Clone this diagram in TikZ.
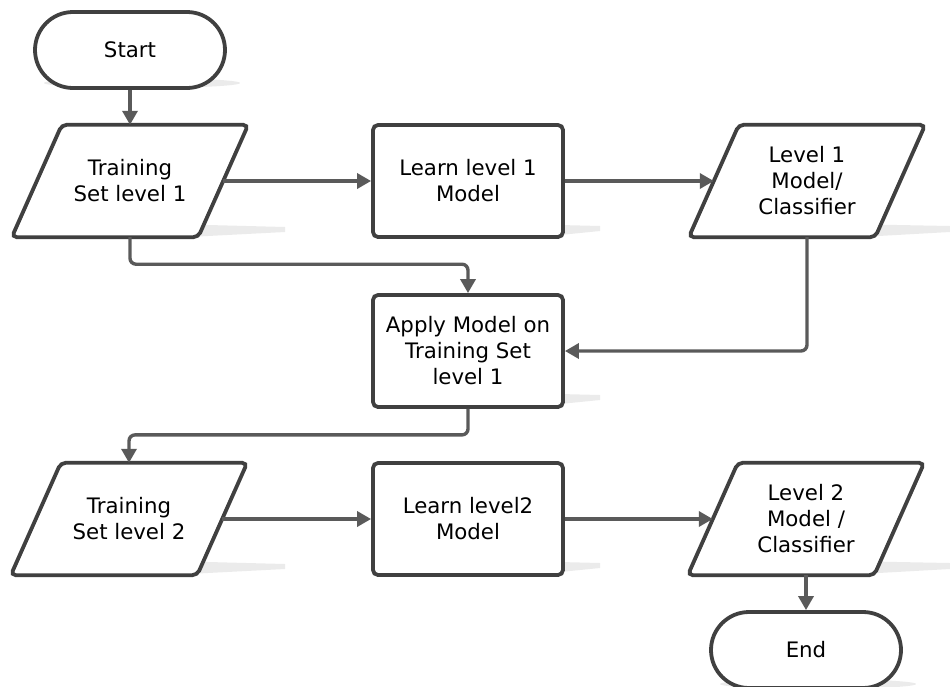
\documentclass[tikz,border=0pt]{standalone}
\usepackage{fontspec}
\setmainfont{DejaVu Sans}
\usetikzlibrary{arrows.meta,calc}
\definecolor{bordergray}{HTML}{404040}
\definecolor{linegray}{HTML}{5A5A5A}
\definecolor{shadowgray}{HTML}{EBEBEB}
\pgfdeclarelayer{background}
\pgfsetlayers{background,main}
% parallelogram outline around a text node of the io style
\newcommand\ioshape[1]{%
  \draw[outline, fill=white] ([xshift=25pt]#1.north west) -- ([xshift=25pt]#1.north east)
    -- ([xshift=-25pt]#1.south east) -- ([xshift=-25pt]#1.south west) -- cycle;}
\begin{document}
\begin{tikzpicture}[x=1pt,y=-1pt,
  outline/.style={draw=bordergray, line width=3.8pt, rounded corners=5pt},
  label/.style={text=black, align=center, font=\fontsize{21.3}{26}\selectfont},
  term/.style={label, outline, fill=white, rectangle, rounded corners=38pt,
    minimum width=190pt, minimum height=76pt},
  proc/.style={label, outline, fill=white, rectangle, minimum width=190pt, minimum height=112pt},
  io/.style={label, rectangle, minimum width=186pt, minimum height=112pt},
  flow/.style={draw=linegray, line width=3.4pt, rounded corners=6pt,
    -{Triangle[length=14pt,width=15pt]}},
  shade/.style={fill=shadowgray, draw=none}]
\useasboundingbox (0,0) rectangle (950,686);

% shapes
\node[term] (start) at (130,50) {Start};
\node[io]   (ts1)   at (130,181) {Training\\Set level 1};
\node[proc] (learn1) at (468,181) {Learn level 1\\Model};
\node[io]   (mod1)  at (807,181) {Level 1\\Model/\\Classifier};
\node[proc] (apply) at (468,351) {Apply Model on\\Training Set\\level 1};
\node[io]   (ts2)   at (129,519) {Training\\Set level 2};
\node[proc] (learn2) at (468,519) {Learn level2\\Model};
\node[io]   (mod2)  at (806,519) {Level 2\\Model /\\Classifier};
\node[term] (end)   at (806,650) {End};

\begin{pgfonlayer}{background}
  % soft drop shadows
  \fill[shade] (142,83) ellipse [x radius=98pt, y radius=5pt];
  \fill[shade] (150,239) -- (285,232) -- (285,227) -- (170,224) -- cycle;
  \fill[shade] (520,239) -- (600,231) -- (600,226) -- (520,224) -- cycle;
  \fill[shade] (825,239) -- (950,232) -- (950,226) -- (845,224) -- cycle;
  \fill[shade] (520,408) -- (600,400) -- (600,395) -- (520,393) -- cycle;
  \fill[shade] (150,576) -- (285,569) -- (285,564) -- (170,561) -- cycle;
  \fill[shade] (520,576) -- (600,568) -- (600,563) -- (520,561) -- cycle;
  \fill[shade] (825,576) -- (950,569) -- (950,563) -- (845,561) -- cycle;
  \fill[shade] (818,684) ellipse [x radius=98pt, y radius=5pt];
  % data (parallelogram) shapes
  \ioshape{ts1}
  \ioshape{mod1}
  \ioshape{ts2}
  \ioshape{mod2}
\end{pgfonlayer}

% connectors
\draw[flow] (start) -- (ts1.north);
\draw[flow] (ts1.east) -- (learn1.west);
\draw[flow] (learn1.east) -- (mod1.west);
\draw[flow] (ts1.south) -- ++(0,27) -| (apply.north);
\draw[flow] (mod1.south) |- (apply.east);
\draw[flow] (apply.south) -- ++(0,26) -| (ts2.north);
\draw[flow] (ts2.east) -- (learn2.west);
\draw[flow] (learn2.east) -- (mod2.west);
\draw[flow] (mod2.south) -- (end);
\end{tikzpicture}
\end{document}
